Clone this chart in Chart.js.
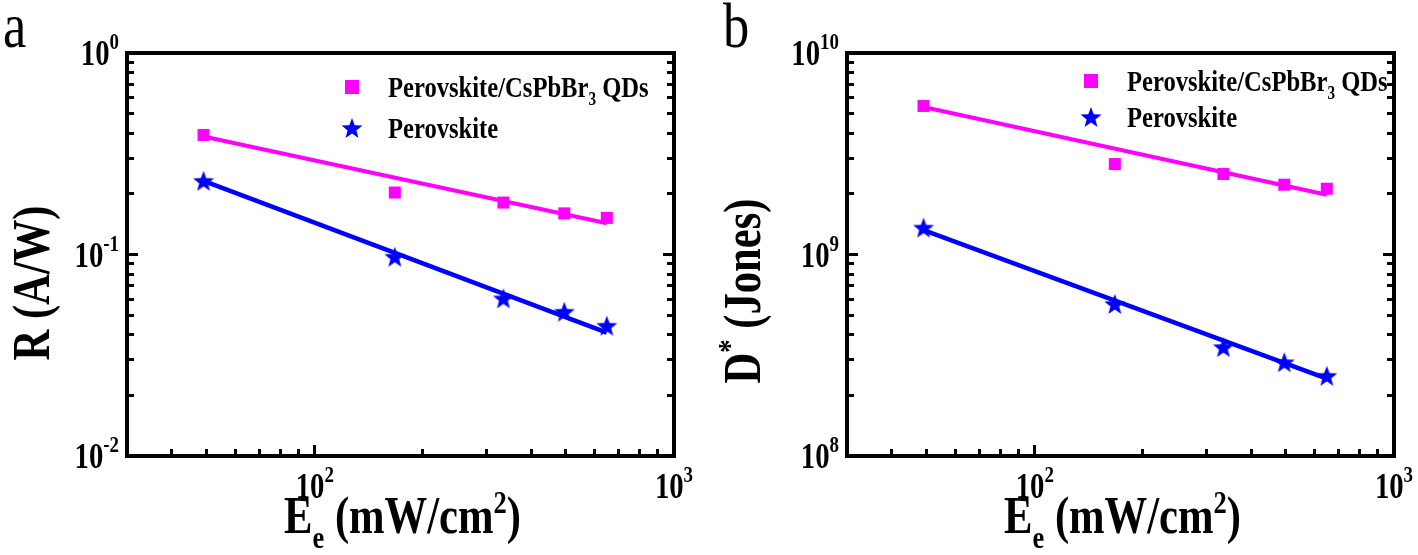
<!DOCTYPE html>
<html lang="en">
<head>
<meta charset="UTF-8">
<title>Responsivity and detectivity vs light intensity</title>
<script src="https://cdn.jsdelivr.net/npm/chart.js@4"></script>
<style>
    body {
        margin: 0;
        padding: 0;
        background: #fff;
    }

    .figure {
        position: relative;
        width: 1418px;
        height: 555px;
    }

    .panel {
        position: absolute;
        top: 0;
        width: 709px;
        height: 555px;
    }
</style>
</head>
<body>

<div class="figure">
    <div class="panel" style="left:0"><canvas id="chartR" width="709" height="555"></canvas></div>
    <div class="panel" style="left:709px"><canvas id="chartD" width="709" height="555"></canvas></div>
</div>

<script>
    // light intensity Ee (mW/cm2)
    const irradiance = [49, 167, 335, 495, 650];

    // responsivity R (A/W)
    const respQD = [0.392, 0.203, 0.181, 0.160, 0.152];
    const respPero = [0.232, 0.0975, 0.0606, 0.052, 0.0443];

    // detectivity D* (Jones)
    const detQD = [5.46e9, 2.81e9, 2.51e9, 2.22e9, 2.12e9];
    const detPero = [1.36e9, 5.68e8, 3.47e8, 2.92e8, 2.5e8];

    // fitted lines, read at first and last intensity
    const fitX = [49, 650];
    const respQDFit = [0.385, 0.143];
    const respPeroFit = [0.232, 0.041];
    const detQDFit = [5.4e9, 1.98e9];
    const detPeroFit = [1.32e9, 2.42e8];

    const seriesNames = ['Perovskite/CsPbBr_3 QDs', 'Perovskite'];

    // axes
    const xTickValues = [100, 1000];
    const xTickExps = ['2', '3'];
    const xMinorTicks = [40, 50, 60, 70, 80, 90, 200, 300, 400, 500, 600, 700, 800, 900];
    const rTickValues = [1, 0.1, 0.01];
    const rTickExps = ['0', '-1', '-2'];
    const rMinorTicks = [0.02, 0.03, 0.04, 0.05, 0.06, 0.07, 0.08, 0.09, 0.2, 0.3, 0.4, 0.5, 0.6, 0.7, 0.8, 0.9];
    const dTickValues = [1e10, 1e9, 1e8];
    const dTickExps = ['10', '9', '8'];
    const dMinorTicks = [2e8, 3e8, 4e8, 5e8, 6e8, 7e8, 8e8, 9e8, 2e9, 3e9, 4e9, 5e9, 6e9, 7e9, 8e9, 9e9];
    const xTitle = 'E_e (mW/cm^2)';

    const FONT = '"Liberation Serif", "Times New Roman", serif';
    const SQUEEZE = 0.82; // the figure uses a narrow bold Times
    const PINK = '#ff00ff';
    const BLUE = '#0000ff';

    function makeStar(size, color) {
        const c = document.createElement('canvas');
        c.width = c.height = size;
        const g = c.getContext('2d');
        const R = size / 2, r = R * 0.42;
        g.beginPath();
        for (let i = 0; i < 10; i++) {
            const a = -Math.PI / 2 + i * Math.PI / 5;
            const rad = i % 2 ? r : R;
            g.lineTo(R + rad * Math.cos(a), R + 1 + rad * Math.sin(a));
        }
        g.closePath();
        g.fillStyle = color;
        g.fill();
        return c;
    }
    const starImg = makeStar(22, BLUE);

    // split "E_e (mW/cm^2)" into text runs with sub/superscripts
    function toRuns(str, size) {
        const runs = [];
        let buf = '';
        for (let i = 0; i < str.length; i++) {
            const c = str[i];
            if ((c === '_' || c === '^') && i + 1 < str.length) {
                if (buf) { runs.push({ text: buf, size: size }); buf = ''; }
                runs.push({ text: str[i + 1], size: size * 0.62, dy: c === '_' ? size * 0.28 : -size * 0.38 });
                i++;
            } else {
                buf += c;
            }
        }
        if (buf) runs.push({ text: buf, size: size });
        return runs;
    }

    function pow10(exp, size) {
        return [{ text: '10', size: size }, { text: exp, size: size * 0.66, dy: -size * 0.45 }];
    }

    function drawRuns(ctx, x, y, runs, align, angle) {
        ctx.save();
        ctx.translate(x, y);
        if (angle) ctx.rotate(angle);
        ctx.scale(SQUEEZE, 1);
        ctx.fillStyle = '#000';
        ctx.textAlign = 'left';
        ctx.textBaseline = 'alphabetic';
        let total = 0;
        runs.forEach(r => {
            ctx.font = (r.weight || 'bold') + ' ' + r.size + 'px ' + FONT;
            r.w = ctx.measureText(r.text).width;
            total += r.w;
        });
        let cx = align === 'right' ? -total : align === 'center' ? -total / 2 : 0;
        runs.forEach(r => {
            ctx.font = (r.weight || 'bold') + ' ' + r.size + 'px ' + FONT;
            ctx.fillText(r.text, cx, r.dy || 0);
            cx += r.w;
        });
        ctx.restore();
    }

    // tick labels, titles and legend drawn on top of the chart
    const panelText = {
        id: 'panelText',
        afterDraw(chart, args, o) {
            const ctx = chart.ctx;
            const area = chart.chartArea;
            const xs = chart.scales.x, ys = chart.scales.y;

            drawRuns(ctx, o.letterX, 47, [{ text: o.letter, size: 64, weight: 'normal' }], 'left');

            o.yTickValues.forEach((v, i) => {
                drawRuns(ctx, area.left - 8, ys.getPixelForValue(v) + 12, pow10(o.yTickExps[i], 35), 'right');
            });
            xTickValues.forEach((v, i) => {
                drawRuns(ctx, xs.getPixelForValue(v), 498, pow10(xTickExps[i], 35), 'center');
            });

            drawRuns(ctx, (area.left + area.right) / 2 + 2, 533, toRuns(xTitle, 52), 'center');
            drawRuns(ctx, o.yTitleX, o.yTitleY, toRuns(o.yTitle, 52), 'center', -Math.PI / 2);

            // legend
            chart.data.datasets.filter(ds => ds.legendRow !== undefined).forEach(ds => {
                const my = o.legendY[ds.legendRow];
                if (ds.pointStyle === 'rect') {
                    ctx.fillStyle = ds.backgroundColor;
                    ctx.fillRect(o.legendX - 7, my - 7, 14, 14);
                } else {
                    ctx.drawImage(ds.pointStyle, o.legendX - 11, my - 11);
                }
                drawRuns(ctx, o.legendX + 36, my + 10, toRuns(ds.label, 30), 'left');
            });
        }
    };

    function logAxis(axis, position, min, max, ticks, tickLength) {
        return {
            type: 'logarithmic',
            axis: axis,
            position: position,
            min: min,
            max: max,
            afterBuildTicks: s => { s.ticks = ticks.map(v => ({ value: v })); },
            afterFit: s => { if (s.isHorizontal()) s.height = 0; else s.width = 0; },
            ticks: { display: false },
            grid: {
                display: ticks.length > 0,
                drawOnChartArea: false,
                drawTicks: true,
                tickLength: tickLength,
                tickWidth: 3,
                tickColor: '#000',
                lineWidth: 3
            },
            border: { display: true, width: 4, color: '#000' }
        };
    }

    function points(xs, ys) {
        return xs.map((x, i) => ({ x: x, y: ys[i] }));
    }

    function createPanel(canvasId, cfg) {
        const yMin = cfg.yRange[0], yMax = cfg.yRange[1];
        new Chart(document.getElementById(canvasId), {
            type: 'scatter',
            data: {
                datasets: [
                    {
                        label: seriesNames[0], legendRow: 0,
                        data: points(irradiance, cfg.qd),
                        pointStyle: 'rect', pointRadius: 8.5,
                        backgroundColor: PINK, borderWidth: 0, order: 1
                    },
                    {
                        label: seriesNames[1], legendRow: 1,
                        data: points(irradiance, cfg.pero),
                        pointStyle: starImg, pointRadius: 11,
                        backgroundColor: BLUE, borderWidth: 0, order: 1
                    },
                    {
                        label: 'fit QD', data: points(fitX, cfg.qdFit),
                        showLine: true, pointRadius: 0, borderColor: PINK, borderWidth: 4, order: 2
                    },
                    {
                        label: 'fit perovskite', data: points(fitX, cfg.peroFit),
                        showLine: true, pointRadius: 0, borderColor: BLUE, borderWidth: 4.5, order: 2
                    }
                ]
            },
            options: {
                responsive: false,
                animation: false,
                events: [],
                layout: { padding: cfg.padding },
                scales: {
                    x: logAxis('x', 'bottom', 30, 1000, xMinorTicks, -7),
                    xMajor: logAxis('x', 'bottom', 30, 1000, [100], -11),
                    xTop: logAxis('x', 'top', 30, 1000, [], 0),
                    y: logAxis('y', 'left', yMin, yMax, cfg.yMinor, -7),
                    yMajor: logAxis('y', 'left', yMin, yMax, [cfg.yTicks[1]], -11),
                    yRight: logAxis('y', 'right', yMin, yMax, cfg.yMinor, -7),
                    yRightMajor: logAxis('y', 'right', yMin, yMax, [cfg.yTicks[1]], -11)
                },
                plugins: {
                    legend: { display: false },
                    tooltip: { enabled: false },
                    panelText: {
                        letter: cfg.letter,
                        letterX: cfg.letterX,
                        yTickValues: cfg.yTicks,
                        yTickExps: cfg.yExps,
                        yTitle: cfg.yTitle,
                        yTitleX: cfg.yTitleX,
                        yTitleY: cfg.yTitleY,
                        legendX: cfg.legendX,
                        legendY: cfg.legendY
                    }
                }
            },
            plugins: [panelText]
        });
    }

    createPanel('chartR', {
        letter: 'a', letterX: 3,
        qd: respQD, pero: respPero, qdFit: respQDFit, peroFit: respPeroFit,
        yRange: [0.01, 1], yTicks: rTickValues, yExps: rTickExps, yMinor: rMinorTicks,
        yTitle: 'R (A/W)', yTitleX: 49, yTitleY: 283,
        legendX: 352, legendY: [87, 128],
        padding: { left: 127, right: 35, top: 53, bottom: 99 }
    });

    createPanel('chartD', {
        letter: 'b', letterX: 14,
        qd: detQD, pero: detPero, qdFit: detQDFit, peroFit: detPeroFit,
        yRange: [1e8, 1e10], yTicks: dTickValues, yExps: dTickExps, yMinor: dMinorTicks,
        yTitle: 'D^* (Jones)', yTitleX: 51, yTitleY: 291,
        legendX: 382, legendY: [81, 117],
        padding: { left: 138, right: 24, top: 53, bottom: 99 }
    });
</script>

</body>
</html>
